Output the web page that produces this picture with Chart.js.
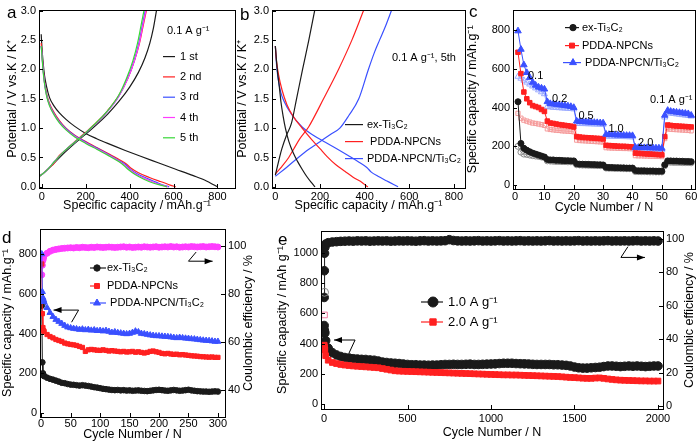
<!DOCTYPE html>
<html>
<head>
<meta charset="utf-8">
<script src="https://cdn.jsdelivr.net/npm/chart.js@4.4.1/dist/chart.umd.min.js"></script>
<style>
  body { margin: 0; background: #fff; width: 700px; height: 442px; position: relative; overflow: hidden;
         font-family: "Liberation Sans", Arial, sans-serif; }
  canvas { position: absolute; }
  .tag { position: absolute; font-size: 17px; color: #000; line-height: 1; }
</style>
</head>
<body>
<canvas id="pa" width="240" height="215" style="left:0;top:0"></canvas>
<canvas id="pb" width="238" height="215" style="left:232px;top:0"></canvas>
<canvas id="pc" width="235" height="215" style="left:465px;top:0"></canvas>
<canvas id="pd" width="257" height="227" style="left:0;top:215px"></canvas>
<canvas id="pe" width="428" height="227" style="left:272px;top:215px"></canvas>
<div class="tag" style="left:7px;top:4px">a</div>
<div class="tag" style="left:240px;top:6px">b</div>
<div class="tag" style="left:469px;top:3px">c</div>
<div class="tag" style="left:2px;top:229px">d</div>
<div class="tag" style="left:278px;top:231px">e</div>
<script>
// ---- panel a: first five cycles at 0.1 A/g, [capacity mAh/g, potential V]
const aDis1 = [[-3,2.6],[0,2.4],[5,2.15],[12,1.9],[22,1.7],[35,1.52],[55,1.38],[80,1.26],[110,1.15],[150,1.03],[200,0.91],[250,0.82],[300,0.74],[380,0.62],[450,0.52],[530,0.41],[610,0.3],[690,0.19],[750,0.1],[785,0.03],[800,0]];
const aDis2 = [[-3,2.45],[0,2.3],[5,2.05],[12,1.8],[22,1.58],[35,1.42],[55,1.27],[80,1.13],[110,1.0],[150,0.88],[200,0.77],[250,0.67],[300,0.57],[350,0.47],[385,0.39],[405,0.32],[440,0.24],[490,0.16],[540,0.09],[585,0.03],[610,0]];
const aDis3 = [[-3,2.4],[0,2.28],[5,2.03],[12,1.78],[22,1.56],[35,1.4],[55,1.25],[80,1.11],[110,0.99],[150,0.87],[200,0.76],[250,0.66],[300,0.56],[350,0.45],[380,0.38],[400,0.31],[430,0.23],[475,0.15],[520,0.08],[560,0.02],[580,0]];
const aDis4 = [[-3,2.4],[0,2.27],[5,2.02],[12,1.77],[22,1.55],[35,1.39],[55,1.24],[80,1.1],[110,0.98],[150,0.86],[200,0.75],[250,0.65],[300,0.55],[350,0.44],[378,0.37],[398,0.3],[428,0.22],[470,0.14],[515,0.07],[555,0.02],[575,0]];
const aDis5 = [[-3,2.4],[0,2.26],[5,2.0],[12,1.76],[22,1.54],[35,1.38],[55,1.23],[80,1.09],[110,0.97],[150,0.85],[200,0.74],[250,0.64],[300,0.54],[350,0.43],[375,0.36],[395,0.29],[425,0.21],[465,0.13],[510,0.06],[550,0.02],[570,0]];
const aChg1 = [[-12,0.18],[0,0.21],[30,0.31],[60,0.42],[100,0.57],[150,0.74],[200,0.9],[250,1.06],[300,1.24],[350,1.45],[400,1.7],[440,1.95],[470,2.2],[492,2.45],[508,2.7],[522,3.0]];
const aChg2 = [[-12,0.18],[0,0.21],[30,0.31],[62,0.43],[72,0.5],[100,0.6],[150,0.77],[200,0.93],[250,1.1],[300,1.3],[350,1.55],[392,1.85],[422,2.15],[445,2.45],[462,2.75],[476,3.0]];
const aChg3 = [[-12,0.18],[0,0.21],[30,0.31],[60,0.44],[100,0.6],[150,0.76],[200,0.92],[250,1.09],[300,1.29],[350,1.54],[390,1.84],[420,2.14],[442,2.45],[458,2.75],[471,3.0]];
const aChg4 = [[-12,0.18],[0,0.21],[30,0.31],[60,0.44],[100,0.6],[150,0.76],[200,0.92],[250,1.09],[300,1.29],[350,1.54],[391,1.84],[421,2.14],[444,2.45],[460,2.75],[474,3.0]];
const aChg5 = [[-12,0.18],[0,0.21],[30,0.31],[60,0.44],[100,0.6],[150,0.76],[200,0.92],[250,1.1],[300,1.3],[350,1.56],[386,1.85],[415,2.15],[436,2.45],[452,2.75],[465,3.0]];
const aCycleNames = ["1 st", "2 nd", "3 rd", "4 th", "5 th"];

// ---- panel b: 5th cycle of the three electrodes
const bExDis = [[0,2.4],[5,2.15],[10,1.95],[18,1.7],[25,1.45],[35,1.2],[45,1.0],[60,0.78],[80,0.58],[100,0.43],[120,0.3],[140,0.18],[160,0.08],[178,0]];
const bExChg = [[0,0.2],[10,0.36],[20,0.52],[30,0.66],[50,0.88],[72,1.08],[95,1.5],[122,2.0],[150,2.5],[176,3.0]];
const bNpcDis = [[0,2.4],[5,2.15],[15,1.9],[30,1.65],[52,1.4],[80,1.2],[120,1.0],[164,0.8],[200,0.65],[231,0.52],[270,0.38],[313,0.26],[350,0.16],[390,0.07],[410,0.01],[415,0]];
const bNpcChg = [[0,0.22],[30,0.35],[60,0.5],[83,0.65],[110,0.82],[149,1.02],[216,1.5],[283,2.0],[343,2.5],[395,3.0]];
const bPtDis = [[0,2.4],[5,2.1],[12,1.85],[25,1.6],[40,1.45],[70,1.25],[120,1.02],[170,0.88],[224,0.76],[275,0.65],[328,0.53],[375,0.42],[410,0.33],[430,0.25],[460,0.18],[500,0.1],[530,0.04],[550,0]];
const bPtChg = [[0,0.18],[50,0.33],[103,0.5],[150,0.64],[200,0.77],[250,0.9],[289,1.0],[330,1.22],[374,1.5],[417,2.0],[445,2.3],[467,2.5],[495,2.75],[520,3.0]];
const materials = ["ex-Ti\u2083C\u2082", "PDDA-NPCNs", "PDDA-NPCN/Ti\u2083C\u2082"];

// ---- panel c: rate test, capacity mAh/g per cycle (filled = discharge, hollow = charge)
const cCycles = [1,2,3,4,5,6,7,8,9,10,11,12,13,14,15,16,17,18,19,20,21,22,23,24,25,26,27,28,29,30,31,32,33,34,35,36,37,38,39,40,41,42,43,44,45,46,47,48,49,50,51,52,53,54,55,56,57,58,59,60];
const cExFilled = [430,215,190,180,172,165,160,155,150,145, 132,130,130,128,128,127,126,126,125,125, 110,108,108,107,107,106,106,105,105,104, 92,91,91,90,90,89,89,88,88,88, 75,74,74,74,73,73,73,72,72,72, 105,125,125,124,124,123,123,122,122,121];
const cExHollow = [200,170,160,158,155,152,150,148,145,142, 125,124,123,122,122,121,121,120,120,119, 105,104,103,103,102,102,101,101,100,100, 88,87,87,86,86,86,85,85,85,84, 70,70,69,69,69,68,68,68,68,68, 100,118,118,117,117,117,116,116,116,115];
const cNpcFilled = [685,575,480,445,425,410,405,400,390,380, 330,320,318,315,312,310,308,306,304,300, 250,248,246,245,244,243,242,241,240,238, 205,204,203,202,201,200,200,199,198,197, 165,164,163,162,161,160,159,158,157,156, 250,310,308,306,305,304,303,302,301,300];
const cNpcHollow = [370,345,335,330,325,320,318,315,312,308, 290,287,285,283,282,280,279,278,277,275, 232,230,229,228,227,226,225,224,223,222, 193,192,191,191,190,190,189,189,188,188, 152,151,151,150,150,149,149,148,148,147, 240,290,288,287,286,285,284,283,282,280];
const cPtFilled = [795,700,620,580,555,530,515,505,500,495, 430,420,418,416,414,412,410,408,405,400, 330,328,327,326,325,324,323,322,321,320, 262,261,260,259,258,258,257,256,256,255, 195,194,194,193,193,192,192,191,191,190, 360,385,380,378,376,374,372,370,368,360];
const cPtHollow = [560,550,540,530,520,510,500,490,480,470, 405,402,400,399,398,397,396,395,394,392, 318,317,316,316,315,315,314,314,313,313, 252,252,251,251,250,250,249,249,248,248, 186,186,185,185,185,184,184,184,183,183, 350,372,370,368,366,364,362,360,358,355];
const cRates = [["0.1", 7, 565], ["0.2", 15.2, 445], ["0.5", 24.2, 355], ["1.0", 34.4, 288], ["2.0", 44.5, 215], ["0.1 A g\u207B\u00B9", 53.2, 440]];

// ---- panel d: 300 cycles at 0.1 A/g
const dCycles = [1,2,3,4,5,10,15,20,25,30,35,40,45,50,55,60,65,70,75,80,85,90,95,100,105,110,115,120,125,130,135,140,145,150,155,160,165,170,175,180,185,190,195,200,205,210,215,220,225,230,235,240,245,250,255,260,265,270,275,280,285,290,295,300];
const dEx = [540,255,200,190,185,178,172,168,163,158,152,150,146,143,142,140,138,140,138,136,133,130,128,125,122,120,118,116,115,116,114,115,113,114,112,113,114,112,111,110,112,114,116,117,115,113,112,114,116,114,112,113,115,117,114,112,110,109,108,108,107,108,109,108];
const dNpc = [750,500,430,415,410,395,385,378,370,365,360,352,348,345,343,340,335,330,310,318,320,318,316,315,318,315,312,314,312,310,308,310,307,308,310,306,308,305,302,305,310,312,308,305,300,298,300,297,295,296,293,294,292,290,288,287,286,284,283,282,281,282,280,280];
const dPt = [800,610,580,570,560,530,505,485,470,460,450,440,432,428,425,423,420,422,418,420,416,418,414,415,412,415,410,405,408,404,402,400,398,400,405,412,408,400,398,395,392,390,388,388,386,385,384,382,380,378,380,378,376,375,373,372,370,368,366,365,364,362,360,360];
const dCE = [88,92,94,95,96,97,97.8,98.3,98.6,98.8,99,99.1,99.2,99.3,99.2,99.4,99.3,99.5,99.4,99.3,99.5,99.4,99.6,99.5,99.4,99.5,99.6,99.5,99.4,99.5,99.6,99.7,99.5,99.6,99.4,99.5,99.6,99.5,99.7,99.6,99.5,99.6,99.7,99.5,99.6,99.7,99.6,99.8,99.6,99.7,99.5,99.6,99.7,99.6,99.8,99.7,99.6,99.7,99.8,99.6,99.7,99.8,99.7,99.6];

// ---- panel e: 2000 cycles of PDDA-NPCN/Ti3C2 at 1.0 and 2.0 A/g
const eCycles = [1,2,3,5,10,25,50,75,100,125,150,175,200,225,250,275,300,325,350,375,400,425,450,475,500,525,550,575,600,625,650,675,700,725,750,775,800,825,850,875,900,925,950,975,1000,1025,1050,1075,1100,1125,1150,1175,1200,1225,1250,1275,1300,1325,1350,1375,1400,1425,1450,1475,1500,1525,1550,1575,1600,1625,1650,1675,1700,1725,1750,1775,1800,1825,1850,1875,1900,1925,1950,1975,2000];
const eCap1 = [520,490,480,470,420,370,340,325,315,308,305,300,298,296,295,292,290,285,278,275,272,270,268,265,262,260,260,258,258,257,258,258,260,262,262,263,262,262,263,264,262,262,263,264,265,266,268,270,270,270,268,267,266,265,263,262,262,262,262,260,260,258,256,252,245,240,238,238,240,242,244,248,252,252,250,248,250,252,250,252,250,248,250,252,252];
const eCap2 = [390,380,370,360,320,290,275,268,262,258,255,252,250,248,246,244,242,240,235,230,225,220,218,217,216,215,214,213,212,211,210,209,208,207,206,205,204,203,202,201,200,199,198,197,196,195,194,193,193,192,192,191,190,189,188,187,186,185,184,183,182,180,178,176,175,173,171,170,170,172,173,170,166,163,160,158,157,156,155,154,153,153,152,152,152];
const eCE1 = [65,81,91.5,95,97,97.8,98.2,98.4,98.6,98.7,98.8,98.7,98.9,98.8,98.9,98.7,98.8,98.9,98.8,98.9,98.7,98.8,98.9,98.8,98.9,98.8,98.7,98.9,99.0,98.8,98.9,98.8,98.9,99.0,99.6,99.1,98.9,98.8,98.9,98.8,98.9,99.0,98.8,98.9,98.8,98.9,99.0,98.8,98.9,98.8,98.9,99.0,98.8,98.9,98.8,98.9,98.8,98.9,99.0,98.8,98.9,98.8,98.9,98.8,98.9,99.0,98.8,98.9,98.8,98.9,98.8,98.9,99.0,98.8,98.9,98.8,98.9,98.8,98.9,99.0,98.8,98.9,98.8,98.9,98.8];
const eFirstCycle = [3];
const eFirstCharge1 = [740];
const eFirstCharge2 = [590];
const eRates = ["1.0 A g\u207B\u00B9", "2.0 A g\u207B\u00B9"];

// ---- tick labels
const voltTicks = [0, 0.5, 1, 1.5, 2, 2.5, 3];
const gcdCapTicks = [0, 200, 400, 600, 800];
const cCycleTicks = [0, 10, 20, 30, 40, 50, 60];
const cCapTicks = [0, 200, 400, 600, 800];
const dCycleTicks = [0, 50, 100, 150, 200, 250, 300];
const dCapTicks = [0, 200, 400, 600, 800];
const dCETicks = [40, 60, 80, 100];
const eCycleTicks = [0, 500, 1000, 1500, 2000];
const eCapTicks = [0, 200, 400, 600, 800, 1000];
const eCETicks = [0, 20, 40, 60, 80, 100];

Chart.defaults.font.family = '"Liberation Sans", Arial, sans-serif';
Chart.defaults.font.size = 11;
Chart.defaults.color = "#000";

const BLACK = "#1a1a1a", RED = "#ff2020", BLUE = "#3a50ff", MAG = "#ff3cff", GREEN = "#38d838";
const FONT = '"Liberation Sans", Arial, sans-serif';
const TITLE_SIZE = 12.5;

const pairs = (arr) => arr.map(([x, y]) => ({ x, y }));
const zip = (xs, ys) => ys.map((y, i) => ({ x: xs[i], y }));

function axis(min, max, ticks, title, size, extra = {}) {
  return {
    type: "linear", min, max,
    position: extra.pos,
    grid: { display: false, drawTicks: false },
    border: { display: false },
    ticks: { padding: extra.lpad ?? 3, autoSkip: false, maxRotation: 0, color: "#000",
             callback: extra.fmt || ((v) => String(v)) },
    title: { display: !!title, text: title, font: { size: TITLE_SIZE }, color: "#000", padding: extra.tpad || 0 },
    afterBuildTicks: (s) => { s.ticks = ticks.map((value) => ({ value })); },
    afterFit: (s) => { if (s.isHorizontal()) s.height = size; else s.width = size; },
  };
}

function arrowHead(ctx, x0, y0, x1, y1) {
  const ang = Math.atan2(y1 - y0, x1 - x0), L = 8, W = 3;
  ctx.beginPath();
  ctx.moveTo(x1, y1);
  ctx.lineTo(x1 - L * Math.cos(ang) + W * Math.sin(ang), y1 - L * Math.sin(ang) - W * Math.cos(ang));
  ctx.lineTo(x1 - L * Math.cos(ang) - W * Math.sin(ang), y1 - L * Math.sin(ang) + W * Math.cos(ang));
  ctx.closePath();
  ctx.fill();
}

// frame, inward ticks, in-plot legends, notes and arrows
const deco = {
  id: "deco",
  afterDraw(chart, args, o) {
    const { ctx, chartArea: a } = chart;
    ctx.save();
    ctx.strokeStyle = "#000"; ctx.fillStyle = "#000"; ctx.lineWidth = 1;
    ctx.strokeRect(Math.round(a.left) + 0.5, Math.round(a.top) + 0.5, Math.round(a.right - a.left), Math.round(a.bottom - a.top));
    for (const s of Object.values(chart.scales)) {
      for (const t of s.ticks) {
        const p = Math.round(s.getPixelForValue(t.value)) + 0.5;
        ctx.beginPath();
        if (s.axis === "x") { ctx.moveTo(p, a.bottom); ctx.lineTo(p, a.bottom - 4); }
        else if (s.position === "right") { ctx.moveTo(a.right, p); ctx.lineTo(a.right - 4, p); }
        else { ctx.moveTo(a.left, p); ctx.lineTo(a.left + 4, p); }
        ctx.stroke();
      }
    }
    ctx.textBaseline = "middle";
    ctx.font = (o.legendSize || 11) + "px " + FONT;
    for (const it of o.legend || []) {
      const y = a.top + it.dy;
      if (it.line) {
        ctx.strokeStyle = it.color; ctx.lineWidth = 1.2;
        ctx.beginPath(); ctx.moveTo(a.left + it.line[0], y); ctx.lineTo(a.left + it.line[1], y); ctx.stroke();
      }
      if (it.marker) {
        ctx.fillStyle = it.color; ctx.strokeStyle = it.color; ctx.lineWidth = 1;
        Chart.helpers.drawPoint(ctx, { pointStyle: it.marker, radius: it.r || 3.5, borderWidth: 1, rotation: 0 }, a.left + it.mx, y);
      }
      ctx.fillStyle = "#000"; ctx.textAlign = "left";
      ctx.fillText(it.text, a.left + it.dx, y);
    }
    ctx.font = "11px " + FONT;
    ctx.textAlign = "center";
    for (const [text, x, y] of o.notes || []) {
      ctx.fillText(text, chart.scales.x.getPixelForValue(x), chart.scales.y.getPixelForValue(y));
    }
    ctx.strokeStyle = "#000"; ctx.fillStyle = "#000"; ctx.lineWidth = 1;
    for (const pts of o.arrows || []) {
      const px = pts.map(([x, y]) => [chart.scales.x.getPixelForValue(x), chart.scales.y.getPixelForValue(y)]);
      ctx.beginPath();
      px.forEach(([x, y], i) => (i ? ctx.lineTo(x, y) : ctx.moveTo(x, y)));
      ctx.stroke();
      const n = px.length;
      arrowHead(ctx, px[n - 2][0], px[n - 2][1], px[n - 1][0], px[n - 1][1]);
    }
    if (o.rightTitle) {
      ctx.font = TITLE_SIZE + "px " + FONT;
      ctx.translate(a.right + o.rightTitle.off, (a.top + a.bottom) / 2);
      ctx.rotate(-Math.PI / 2);
      ctx.fillText(o.rightTitle.text, 0, 0);
    }
    ctx.restore();
  },
};

function make(id, datasets, scales, padding, decoOpts) {
  return new Chart(document.getElementById(id), {
    type: "line",
    data: { datasets },
    options: {
      responsive: false, animation: false, devicePixelRatio: 1,
      layout: { padding },
      plugins: { legend: { display: false }, tooltip: { enabled: false }, deco: decoOpts },
      scales,
    },
    plugins: [deco],
  });
}

const curve = (data, color, order) => ({
  data: pairs(data), borderColor: color, borderWidth: 1.2, pointRadius: 0,
  cubicInterpolationMode: "monotone", order,
});
const marked = (xs, ys, color, style, r, fill, order, axisId = "y") => ({
  data: zip(xs, ys), borderColor: color, backgroundColor: fill, borderWidth: 1,
  pointStyle: style, pointRadius: r, pointBorderWidth: 1, order, yAxisID: axisId,
});

const f1 = (v) => v.toFixed(1);
const capTitle = "Specific capacity / mAh.g\u207B\u00B9";

// ---- a
const aColors = [BLACK, RED, BLUE, MAG, GREEN];
make("pa", [
  ...[aDis1, aDis2, aDis3, aDis4, aDis5].map((d, i) => curve(d, aColors[i], 5 - i)),
  ...[aChg1, aChg2, aChg3, aChg4, aChg5].map((d, i) => curve(d, aColors[i], 5 - i)),
], {
  x: axis(-13, 880, gcdCapTicks, capTitle, 27, { tpad: 2, lpad: 2 }),
  y: axis(-0.02, 3.02, voltTicks, "Potential / V vs.K / K\u207A", 39, { tpad: 5, fmt: f1 }),
}, { left: 0, right: 5, top: 4, bottom: 0 }, {
  legend: [
    { text: "0.1 A g\u207B\u00B9", dx: 128, dy: 21, color: "#000" },
    ...aCycleNames.map((t, i) => ({ text: t, dx: 141, dy: 47 + i * 20.3, color: aColors[i], line: [124, 136] })),
  ],
});

// ---- b
make("pb", [
  curve(bExDis, BLACK, 1), curve(bExChg, BLACK, 1),
  curve(bNpcDis, RED, 2), curve(bNpcChg, RED, 2),
  curve(bPtDis, BLUE, 3), curve(bPtChg, BLUE, 3),
], {
  x: axis(-15, 850, gcdCapTicks, capTitle, 27, { tpad: 2, lpad: 2 }),
  y: axis(-0.02, 3.02, voltTicks, "Potential / V vs.K / K\u207A", 40, { tpad: 3, fmt: f1 }),
}, { left: 0, right: 5, top: 4, bottom: 0 }, {
  legend: [
    { text: "0.1 A g\u207B\u00B9, 5th", dx: 120, dy: 48, color: "#000" },
    { text: materials[0], dx: 95, dy: 115, color: BLACK, line: [73, 91] },
    { text: " " + materials[1], dx: 95, dy: 132, color: RED, line: [73, 91] },
    { text: materials[2], dx: 95, dy: 149, color: BLUE, line: [73, 91] },
  ],
});

// ---- c
make("pc", [
  marked(cCycles, cExHollow, "#8a8a8a", "circle", 3, "rgba(0,0,0,0)", 6),
  marked(cCycles, cNpcHollow, "#f59a9a", "rect", 3, "rgba(0,0,0,0)", 5),
  marked(cCycles, cPtHollow, "#9aaaff", "triangle", 3.5, "rgba(0,0,0,0)", 4),
  marked(cCycles, cExFilled, BLACK, "circle", 3, BLACK, 3),
  marked(cCycles, cNpcFilled, RED, "rect", 3.2, RED, 2),
  marked(cCycles, cPtFilled, BLUE, "triangle", 3.8, BLUE, 1),
], {
  x: axis(-0.7, 61.3, cCycleTicks, "Cycle Number / N", 26, { tpad: 0, lpad: 1 }),
  y: axis(-20, 905, cCapTicks, capTitle, 48, { tpad: 0 }),
}, { left: 0, right: 3, top: 5, bottom: 0 }, {
  legend: [
    { text: materials[0], dx: 69, dy: 18, color: BLACK, line: [52, 66], marker: "circle", mx: 60, r: 3.2 },
    { text: materials[1], dx: 69, dy: 36, color: RED, line: [52, 66], marker: "rect", mx: 59, r: 3.5 },
    { text: " " + materials[2], dx: 69, dy: 53, color: BLUE, line: [50, 68], marker: "triangle", mx: 60, r: 4 },
  ],
  notes: cRates,
});

// ---- d
make("pd", [
  marked(dCycles, dCE, MAG, "circle", 3, MAG, 4, "y2"),
  marked(dCycles, dEx, BLACK, "circle", 2.8, BLACK, 3),
  marked(dCycles, dNpc, RED, "rect", 3, RED, 2),
  marked(dCycles, dPt, BLUE, "triangle", 3.5, BLUE, 1),
], {
  x: axis(-2, 312, dCycleTicks, "Cycle Number / N", 25, { tpad: 0, lpad: 0 }),
  y: axis(-20, 926, dCapTicks, capTitle, 40, { tpad: 0 }),
  y2: axis(28.75, 107.1, dCETicks, "", 32, { pos: "right" }),
}, { left: 0, right: 0, top: 14, bottom: 0 }, {
  legend: [
    { text: materials[0], dx: 67, dy: 39, color: BLACK, line: [50, 66], marker: "circle", mx: 57, r: 3.2 },
    { text: materials[1], dx: 67, dy: 57, color: RED, line: [50, 60], marker: "rect", mx: 57, r: 3.5 },
    { text: " " + materials[2], dx: 67, dy: 74, color: BLUE, line: [50, 66], marker: "triangle", mx: 57, r: 4 },
  ],
  arrows: [
    [[51.6, 457], [63.5, 518], [21, 518]],
    [[263, 810], [250, 764], [291, 764]],
  ],
  rightTitle: { text: "Coulombic efficiency / %", off: 24 },
});

// ---- e
make("pe", [
  marked(eCycles, eCE1, BLACK, "circle", 4.3, BLACK, 4, "y2"),
  marked(eFirstCycle, eFirstCharge1, "#888", "circle", 4, "rgba(0,0,0,0)", 3),
  marked(eFirstCycle, eFirstCharge2, "#f07aa0", "rect", 4, "rgba(0,0,0,0)", 3),
  marked(eCycles, eCap1, BLACK, "circle", 4.3, BLACK, 2),
  marked(eCycles, eCap2, RED, "rect", 4, RED, 1),
], {
  x: axis(-18, 2030, eCycleTicks, "Cycle Number / N", 33, { tpad: 2, lpad: 3 }),
  y: axis(-33, 1146, eCapTicks, "Specific capacity / mAh g\u207B\u00B9", 49, { tpad: 3 }),
  y2: axis(-1.8, 104.8, eCETicks, "", 37, { pos: "right" }),
}, { left: 0, right: 0, top: 16, bottom: 0 }, {
  legendSize: 13,
  legend: [
    { text: eRates[0], dx: 127, dy: 71, color: BLACK, line: [100, 122], marker: "circle", mx: 112, r: 5 },
    { text: eRates[1], dx: 127, dy: 91, color: RED, line: [100, 122], marker: "rect", mx: 112, r: 4.5 },
  ],
  arrows: [
    [[150, 338], [186, 424], [60, 424]],
    [[1820, 1042], [1778, 971], [1922, 971]],
  ],
  rightTitle: { text: "Coulombic efficiency / %", off: 27 },
});
</script>
</body>
</html>
